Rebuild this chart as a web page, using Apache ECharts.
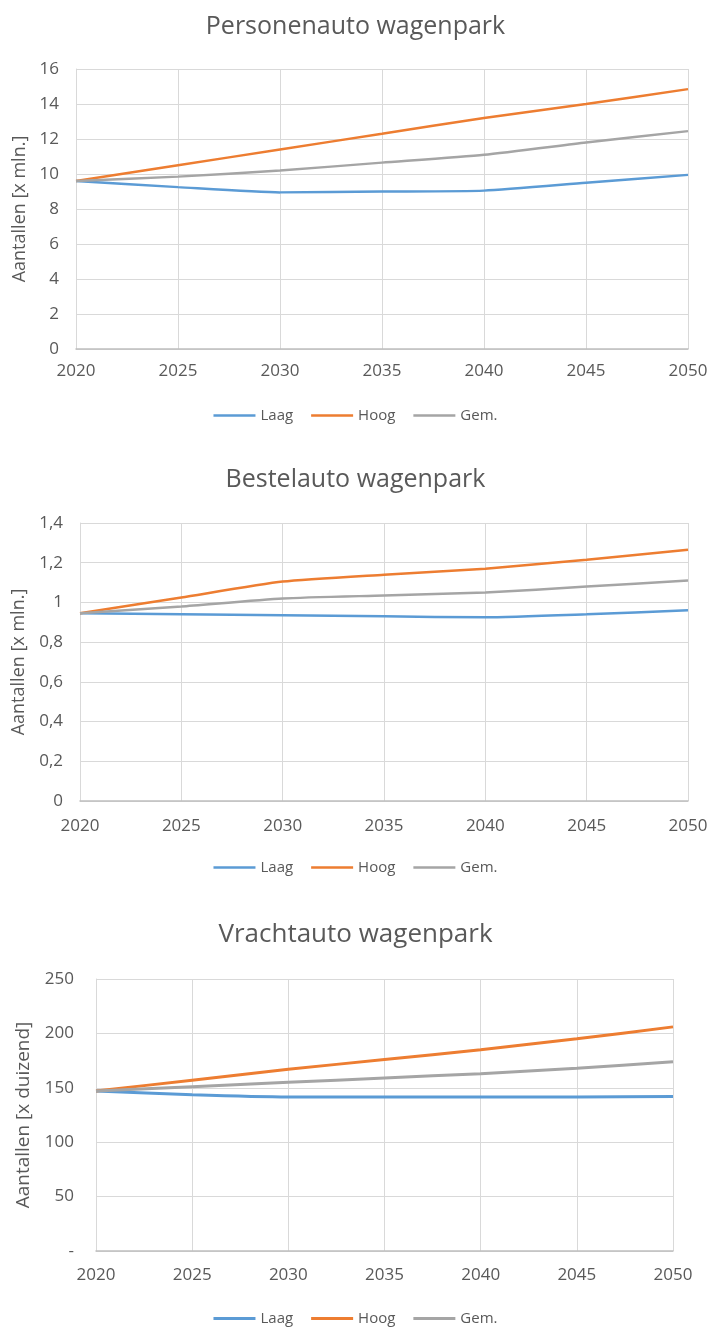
<!DOCTYPE html>
<html>
<head>
<meta charset="utf-8">
<script src="https://cdn.jsdelivr.net/npm/echarts@6/dist/echarts.min.js"></script>
<style>
  html, body { margin: 0; padding: 0; background: #fff; }
  #chart { width: 711px; height: 1329px; }
</style>
</head>
<body>
<div id="chart"></div>
<script>
var years = [2020, 2025, 2030, 2035, 2040, 2045, 2050];
var seriesNames = ['Laag', 'Hoog', 'Gem.'];

// Personenauto wagenpark [x mln.]
var persLaag = [9.6, 9.25, 8.95, 9.0, 9.05, 9.5, 9.95];
var persHoog = [9.6, 10.5, 11.4, 12.3, 13.2, 14.0, 14.85];
var persGem  = [9.6, 9.85, 10.2, 10.65, 11.1, 11.8, 12.45];

// Bestelauto wagenpark [x mln.]
var bestLaag = [0.945, 0.94, 0.935, 0.93, 0.925, 0.94, 0.96];
var bestHoog = [0.945, 1.025, 1.105, 1.14, 1.17, 1.215, 1.265];
var bestGem  = [0.945, 0.98, 1.02, 1.035, 1.05, 1.08, 1.11];

// Vrachtauto wagenpark [x duizend]
var vrachtLaag = [147, 143.5, 141.5, 141.5, 141.5, 141.5, 142];
var vrachtHoog = [147, 157, 167, 176, 185, 195, 206];
var vrachtGem  = [147, 151, 155, 159, 163, 168, 174];

var colors = ['#5B9BD5', '#ED7D31', '#A5A5A5'];
var font = 'Open Sans';
var textColor = '#595959';

var pairs = function (vals) {
	return years.map(function (y, i) { return [y, vals[i]]; });
};

var chart = echarts.init(document.getElementById('chart'));

var charts = [
	{ title: 'Personenauto wagenpark', titleTop: 9, titleSize: 25, grid: { left: 76, top: 69, width: 612, height: 280 },
	  max: 16, interval: 2, name: 'Aantallen [x mln.]', nameSize: 18, nameGap: 45, yMargin: 17, xMargin: 14, legendTop: 403, lineW: 2.5,
	  fmt: function (v) { return String(v); }, data: [persLaag, persHoog, persGem] },
	{ title: 'Bestelauto wagenpark', titleTop: 462, titleSize: 25, grid: { left: 80, top: 523, width: 608, height: 278 },
	  max: 1.4, interval: 0.2, name: 'Aantallen [x mln.]', nameSize: 18, nameGap: 49, yMargin: 17, xMargin: 17, legendTop: 855, lineW: 2.5,
	  fmt: function (v) { return String(Math.round(v * 10) / 10).replace('.', ','); }, data: [bestLaag, bestHoog, bestGem] },
	{ title: 'Vrachtauto wagenpark', titleTop: 917, titleSize: 26, grid: { left: 96, top: 979, width: 577, height: 272 },
	  max: 250, interval: 50, name: 'Aantallen [x duizend]', nameSize: 19, nameGap: 63, yMargin: 22, xMargin: 16, legendTop: 1306, lineW: 3,
	  fmt: function (v) { return v === 0 ? '-' : String(v); }, data: [vrachtLaag, vrachtHoog, vrachtGem] }
];

var option = {
	backgroundColor: '#fff',
	animation: false,
	color: colors,
	title: [], legend: [], grid: [], xAxis: [], yAxis: [], series: []
};

charts.forEach(function (c, idx) {
	option.title.push({
		text: c.title,
		left: 'center',
		top: c.titleTop,
		textStyle: { fontFamily: font, fontWeight: 'normal', fontSize: c.titleSize, color: textColor }
	});
	option.legend.push({
		data: seriesNames,
		left: 'center',
		top: c.legendTop,
		icon: 'rect',
		itemWidth: 42,
		itemHeight: c.lineW,
		itemGap: 18,
		textStyle: { fontFamily: font, fontSize: 15, color: textColor }
	});
	option.grid.push(c.grid);
	option.xAxis.push({
		type: 'value',
		gridIndex: idx,
		min: 2020,
		max: 2050,
		interval: 5,
		axisLine: { lineStyle: { color: '#BFBFBF', width: 1.5 } },
		axisTick: { show: false },
		axisLabel: { fontFamily: font, fontSize: 17, color: textColor, margin: c.xMargin, formatter: function (v) { return String(v); } },
		splitLine: { show: true, lineStyle: { color: '#D9D9D9', width: 1 } }
	});
	option.yAxis.push({
		type: 'value',
		gridIndex: idx,
		min: 0,
		max: c.max,
		interval: c.interval,
		name: c.name,
		nameLocation: 'middle',
		nameGap: c.nameGap,
		nameTextStyle: { fontFamily: font, fontSize: c.nameSize, color: textColor },
		axisLine: { show: true, lineStyle: { color: '#D9D9D9' } },
		axisTick: { show: false },
		axisLabel: { fontFamily: font, fontSize: 17, color: textColor, margin: c.yMargin, formatter: c.fmt },
		splitLine: { show: true, lineStyle: { color: '#D9D9D9', width: 1 } }
	});
	c.data.forEach(function (vals, k) {
		option.series.push({
			name: seriesNames[k],
			type: 'line',
			xAxisIndex: idx,
			yAxisIndex: idx,
			smooth: 0.2,
			showSymbol: false,
			lineStyle: { width: c.lineW, color: colors[k] },
			itemStyle: { color: colors[k] },
			data: pairs(vals)
		});
	});
});

chart.setOption(option);
</script>
</body>
</html>
